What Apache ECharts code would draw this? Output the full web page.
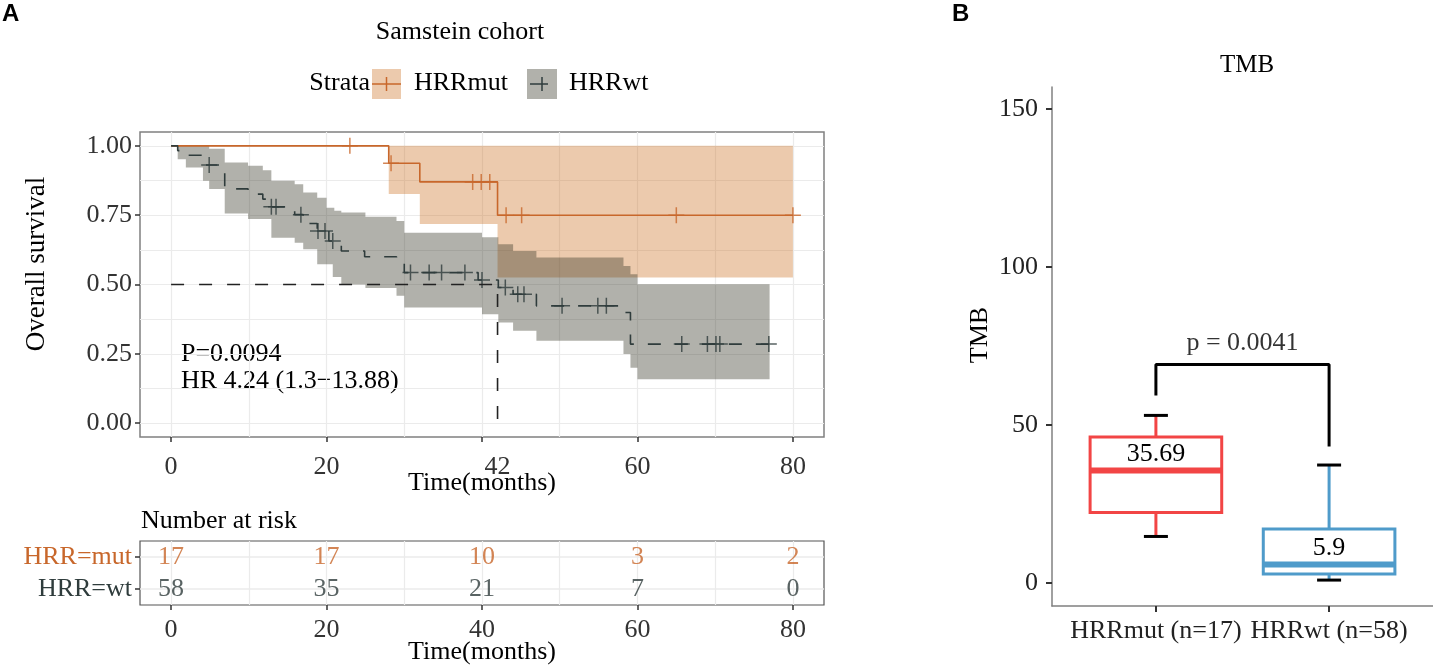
<!DOCTYPE html>
<html>
<head>
<meta charset="utf-8">
<script src="https://cdn.jsdelivr.net/npm/echarts@6/dist/echarts.min.js"></script>
<style>
html, body { margin: 0; padding: 0; background: #fff; }
#main { width: 1433px; height: 666px; }
</style>
</head>
<body>
<div id="main"></div>
<script>
// ---- KM curve: HRRmut ----
var mutTimes = [0, 28, 32, 42, 80];
var mutSurv = [1, 0.9375, 0.87, 0.75, 0.75];
var mutCensorTimes = [23, 28.3, 38.8, 39.9, 41, 43.1, 45.1, 65, 80];
var mutCensorSurv = [1, 0.9375, 0.87, 0.87, 0.87, 0.75, 0.75, 0.75, 0.75];
var mutBandTimes = [28, 32, 42, 80];
var mutBandLower = [0.826, 0.718, 0.525, 0.525];
var mutBandUpper = [1, 1, 1, 1];

// ---- KM curve: HRRwt ----
var wtTimes = [0, 0.85, 1.9, 4.1, 6.9, 9.9, 11.8, 12.9, 15.9, 17, 18.8, 20.3, 21.9, 24.9, 29, 30, 39.5, 42.1, 44, 47, 58.2, 59.1, 77];
var wtSurv = [1, 0.983, 0.966, 0.931, 0.845, 0.826, 0.808, 0.78, 0.752, 0.72, 0.693, 0.657, 0.621, 0.6, 0.579, 0.543, 0.516, 0.489, 0.465, 0.423, 0.399, 0.285, 0.285];
var wtCensorTimes = [4.9, 12.9, 13.5, 16.7, 18.9, 19.8, 20.8, 30.8, 33.2, 34.8, 37.8, 40, 43, 44.6, 45.4, 50.3, 54.9, 56, 65.7, 69, 70.1, 70.6, 76.9];
var wtCensorSurv = [0.931, 0.78, 0.78, 0.752, 0.693, 0.693, 0.657, 0.543, 0.543, 0.543, 0.543, 0.516, 0.489, 0.465, 0.465, 0.423, 0.423, 0.423, 0.285, 0.285, 0.285, 0.285, 0.285];
var wtBandTimes = [0, 0.85, 1.9, 4.1, 4.9, 6.9, 9.9, 11.8, 12.9, 15.9, 17, 18.8, 20, 20.8, 21, 21.9, 25, 29, 30, 40, 42.1, 44, 47, 58.2, 59.1, 60, 77];
var wtBandLower = [1, 0.952, 0.922, 0.874, 0.844, 0.756, 0.736, 0.736, 0.669, 0.651, 0.627, 0.573, 0.573, 0.527, 0.527, 0.5, 0.487, 0.459, 0.417, 0.393, 0.363, 0.333, 0.297, 0.249, 0.2, 0.158, 0.158];
var wtBandUpper = [1, 1, 1, 1, 0.99, 0.94, 0.928, 0.912, 0.874, 0.862, 0.832, 0.813, 0.777, 0.777, 0.766, 0.76, 0.744, 0.729, 0.687, 0.67, 0.645, 0.621, 0.597, 0.567, 0.537, 0.501, 0.501];

var medianTime = 42;
var medianSurv = 0.5;

// ---- number at risk ----
var riskTimes = [0, 20, 40, 60, 80];
var riskMut = [17, 17, 10, 3, 2];
var riskWt = [58, 35, 21, 7, 0];
var riskRows = ['HRR=wt', 'HRR=mut'];

// ---- TMB boxplot ----
var boxCategories = ['HRRmut (n=17)', 'HRRwt (n=58)'];
// [low whisker, Q1, median, Q3, high whisker]
var boxMut = [14.8, 22.4, 35.69, 46.3, 53.1];
var boxWt = [1.0, 2.9, 5.9, 17.2, 37.4];
var bracketY = [59.4, 69.2, 43.3];
var pText = 'p = 0.0041';

var SERIF = "'Liberation Serif', 'Times New Roman', serif";
var mutColor = '#C8672B';
var wtColor = '#2F3C3C';
var mutFill = 'rgba(205,115,40,0.38)';
var wtFill = 'rgba(50,50,35,0.38)';
var boxColors = ['#F24545', '#4F9BCA'];
var plusPath = 'path://M0,5L10,5M5,0L5,10';

function zip(a, b) {
    return a.map(function (v, i) { return [v, b[i]]; });
}

// one polygon for a step-shaped confidence band
function bandSeries(times, lower, upper, fill) {
    return {
        type: 'custom',
        xAxisIndex: 0, yAxisIndex: 0,
        silent: true,
        data: times.map(function (t, i) { return [t, lower[i], upper[i]]; }),
        encode: { x: 0, y: [1, 2] },
        renderItem: function (params, api) {
            if (params.dataIndex !== 0) return null;
            var pts = [], i, t0, t1;
            for (i = 0; i < times.length; i++) {
                t0 = times[i];
                t1 = i < times.length - 1 ? times[i + 1] : times[i];
                pts.push(api.coord([t0, upper[i]]), api.coord([t1, upper[i]]));
            }
            for (i = times.length - 1; i >= 0; i--) {
                t0 = times[i];
                t1 = i < times.length - 1 ? times[i + 1] : times[i];
                pts.push(api.coord([t1, lower[i]]), api.coord([t0, lower[i]]));
            }
            return { type: 'polygon', shape: { points: pts }, style: { fill: fill } };
        }
    };
}

var chart = echarts.init(document.getElementById('main'));

var noLine = { show: false, onZero: false };
var tickStyle = { color: '#333', width: 1.5 };

var option = {
    animation: false,
    backgroundColor: '#fff',
    textStyle: { fontFamily: SERIF },
    title: [
        { text: 'Samstein cohort', left: 455, top: 14, textAlign: 'center',
          textStyle: { fontFamily: SERIF, fontSize: 26, fontWeight: 'normal', color: '#000' } },
        { text: 'TMB', left: 1242, top: 48, textAlign: 'center',
          textStyle: { fontFamily: SERIF, fontSize: 25, fontWeight: 'normal', color: '#000' } },
        { text: 'Number at risk', left: 136, top: 503,
          textStyle: { fontFamily: SERIF, fontSize: 26, fontWeight: 'normal', color: '#000' } }
    ],
    grid: [
        { left: 140, top: 132, width: 684, height: 305, show: true, borderColor: '#808080', borderWidth: 1.5, backgroundColor: 'transparent' },
        { left: 140, top: 541, width: 684, height: 65, show: true, borderColor: '#555', borderWidth: 1.2, backgroundColor: 'transparent' },
        { left: 1052, top: 87, right: 0, bottom: 60 }
    ],
    xAxis: [
        { type: 'value', gridIndex: 0, min: -4, max: 84, position: 'bottom',
          axisLine: noLine,
          axisTick: { show: true, length: 5, lineStyle: tickStyle, customValues: [0, 20, 40, 60, 80] },
          axisLabel: { customValues: [0, 20, 42, 60, 80], fontFamily: SERIF, fontSize: 26, color: '#333', margin: 17 },
          splitLine: { show: false },
          name: 'Time(months)', nameLocation: 'middle', nameGap: 33, nameMoveOverlap: false,
          nameTextStyle: { fontFamily: SERIF, fontSize: 26, color: '#000' } },
        { type: 'value', gridIndex: 0, min: -4, max: 84, position: 'bottom',
          axisLine: noLine, axisLabel: { show: false },
          axisTick: { show: false, customValues: [0, 10, 20, 30, 40, 50, 60, 70, 80] },
          splitLine: { show: true, lineStyle: { color: '#EBEBEB', width: 1.2 } } },
        { type: 'value', gridIndex: 1, min: -4, max: 84, position: 'bottom',
          axisLine: noLine,
          axisTick: { show: true, length: 5, lineStyle: tickStyle, customValues: riskTimes },
          axisLabel: { customValues: riskTimes, fontFamily: SERIF, fontSize: 26, color: '#333', margin: 12 },
          splitLine: { show: false },
          name: 'Time(months)', nameLocation: 'middle', nameGap: 34, nameMoveOverlap: false,
          nameTextStyle: { fontFamily: SERIF, fontSize: 26, color: '#000' } },
        { type: 'value', gridIndex: 1, min: -4, max: 84, position: 'bottom',
          axisLine: noLine, axisLabel: { show: false },
          axisTick: { show: false, customValues: [0, 10, 20, 30, 40, 50, 60, 70, 80] },
          splitLine: { show: true, lineStyle: { color: '#EBEBEB', width: 1.2 } } },
        { type: 'value', gridIndex: 2, min: 0.4, max: 2.6, position: 'bottom',
          axisLine: { show: true, onZero: false, lineStyle: { color: '#808080', width: 1.5 } },
          axisTick: { show: true, length: 6, lineStyle: { color: '#333', width: 2 }, customValues: [1, 2] },
          axisLabel: { customValues: [1, 2], fontFamily: SERIF, fontSize: 26, color: '#222', margin: 12,
                       formatter: function (v) { return boxCategories[Math.round(v) - 1]; } },
          splitLine: { show: false } }
    ],
    yAxis: [
        { type: 'value', gridIndex: 0, min: -0.05, max: 1.05, position: 'left',
          axisLine: noLine,
          axisTick: { show: true, length: 5, lineStyle: tickStyle, customValues: [0, 0.25, 0.5, 0.75, 1] },
          axisLabel: { customValues: [0, 0.25, 0.5, 0.75, 1], fontFamily: SERIF, fontSize: 26, color: '#333', margin: 8,
                       formatter: function (v) { return v.toFixed(2); } },
          splitLine: { show: false } },
        { type: 'value', gridIndex: 0, min: -0.05, max: 1.05, position: 'left',
          axisLine: noLine, axisLabel: { show: false },
          axisTick: { show: false, customValues: [0, 0.125, 0.25, 0.375, 0.5, 0.625, 0.75, 0.875, 1] },
          splitLine: { show: true, lineStyle: { color: '#EBEBEB', width: 1.2 } } },
        { type: 'value', gridIndex: 1, min: 0.5, max: 2.5, position: 'left',
          axisLine: noLine,
          axisTick: { show: true, length: 5, lineStyle: tickStyle, customValues: [1, 2] },
          axisLabel: { customValues: [1, 2], fontFamily: SERIF, fontSize: 26, margin: 8,
                       formatter: function (v) {
                           var n = riskRows[Math.round(v) - 1];
                           return v > 1.5 ? '{mut|' + n + '}' : '{wt|' + n + '}';
                       },
                       rich: { mut: { color: mutColor, fontFamily: SERIF, fontSize: 26 },
                               wt: { color: wtColor, fontFamily: SERIF, fontSize: 26 } } },
          splitLine: { show: true, lineStyle: { color: '#EBEBEB', width: 1.5 } } },
        { type: 'value', gridIndex: 2, min: -7.2, max: 157, position: 'left',
          axisLine: { show: true, onZero: false, lineStyle: { color: '#808080', width: 1.5 } },
          axisTick: { show: true, length: 6, lineStyle: { color: '#333', width: 2 }, customValues: [0, 50, 100, 150] },
          axisLabel: { customValues: [0, 50, 100, 150], fontFamily: SERIF, fontSize: 26, color: '#222', margin: 14 },
          splitLine: { show: false } }
    ],
    graphic: [
        { type: 'text', left: 2, top: 2, style: { text: 'A', font: 'bold 24px "Liberation Sans", Arial, sans-serif', fill: '#000' } },
        { type: 'text', left: 952, top: 2, style: { text: 'B', font: 'bold 24px "Liberation Sans", Arial, sans-serif', fill: '#000' } },
        // axis titles
        { type: 'text', x: 37, y: 264, rotation: Math.PI / 2,
          style: { text: 'Overall survival', font: '27px ' + SERIF, fill: '#000', align: 'center', verticalAlign: 'middle' } },
        { type: 'text', x: 980, y: 335, rotation: Math.PI / 2,
          style: { text: 'TMB', font: '26px ' + SERIF, fill: '#000', align: 'center', verticalAlign: 'middle' } },
        // legend
        { type: 'text', right: 1433 - 370, top: 70, style: { text: 'Strata', font: '26px ' + SERIF, fill: '#000' } },
        { type: 'rect', shape: { x: 372, y: 69, width: 29, height: 30 }, style: { fill: mutFill } },
        { type: 'line', shape: { x1: 372, y1: 84, x2: 401, y2: 84 }, style: { stroke: mutColor, lineWidth: 1.5 } },
        { type: 'line', shape: { x1: 386.5, y1: 77, x2: 386.5, y2: 91 }, style: { stroke: mutColor, lineWidth: 1.5 } },
        { type: 'text', left: 414, top: 70, style: { text: 'HRRmut', font: '26px ' + SERIF, fill: '#000' } },
        { type: 'rect', shape: { x: 527, y: 69, width: 30, height: 30 }, style: { fill: wtFill } },
        { type: 'line', shape: { x1: 530, y1: 84, x2: 548, y2: 84 }, style: { stroke: wtColor, lineWidth: 1.5 } },
        { type: 'line', shape: { x1: 542, y1: 77, x2: 542, y2: 91 }, style: { stroke: wtColor, lineWidth: 1.5 } },
        { type: 'text', left: 569, top: 70, style: { text: 'HRRwt', font: '26px ' + SERIF, fill: '#000' } },
        // test statistics
        { type: 'text', left: 181, top: 341, style: { text: 'P=0.0094', font: '26px ' + SERIF, fill: '#000' } },
        { type: 'text', left: 181, top: 368, style: { text: 'HR 4.24 (1.3\u221213.88)', font: '26px ' + SERIF, fill: '#000' } }
    ],
    series: [
        bandSeries(mutBandTimes, mutBandLower, mutBandUpper, mutFill),
        bandSeries(wtBandTimes, wtBandLower, wtBandUpper, wtFill),
        { type: 'line', xAxisIndex: 0, yAxisIndex: 0, data: zip(mutTimes, mutSurv), step: 'end',
          symbol: 'none', lineStyle: { color: mutColor, width: 1.6 }, silent: true },
        { type: 'line', xAxisIndex: 0, yAxisIndex: 0, data: zip(wtTimes, wtSurv), step: 'end',
          symbol: 'none', lineStyle: { color: wtColor, width: 1.6, type: [13, 14] }, silent: true },
        { type: 'line', xAxisIndex: 0, yAxisIndex: 0,
          data: [[0, medianSurv], [medianTime, medianSurv], [medianTime, 0]],
          symbol: 'none', lineStyle: { color: '#222', width: 1.6, type: [13, 15] }, silent: true },
        { type: 'scatter', xAxisIndex: 0, yAxisIndex: 0, data: zip(mutCensorTimes, mutCensorSurv),
          symbol: plusPath, symbolSize: 16,
          itemStyle: { color: 'transparent', borderColor: mutColor, borderWidth: 1.5 }, silent: true },
        { type: 'scatter', xAxisIndex: 0, yAxisIndex: 0, data: zip(wtCensorTimes, wtCensorSurv),
          symbol: plusPath, symbolSize: 16,
          itemStyle: { color: 'transparent', borderColor: wtColor, borderWidth: 1.5 }, silent: true },
        // number at risk table
        { type: 'scatter', xAxisIndex: 2, yAxisIndex: 2,
          data: riskTimes.map(function (t, i) { return [t, 2, riskMut[i]]; }),
          symbolSize: 1, itemStyle: { color: 'transparent' }, silent: true,
          label: { show: true, position: 'inside', formatter: function (p) { return p.value[2]; },
                   fontFamily: SERIF, fontSize: 26, color: mutColor } },
        { type: 'scatter', xAxisIndex: 2, yAxisIndex: 2,
          data: riskTimes.map(function (t, i) { return [t, 1, riskWt[i]]; }),
          symbolSize: 1, itemStyle: { color: 'transparent' }, silent: true,
          label: { show: true, position: 'inside', formatter: function (p) { return p.value[2]; },
                   fontFamily: SERIF, fontSize: 26, color: wtColor } },
        // TMB boxes
        { type: 'custom', xAxisIndex: 4, yAxisIndex: 3, silent: true,
          data: [[1].concat(boxMut), [2].concat(boxWt)],
          encode: { x: 0, y: [1, 2, 3, 4, 5] },
          renderItem: function (params, api) {
              var x = api.value(0);
              var lo = api.coord([x, api.value(1)]);
              var q1 = api.coord([x, api.value(2)]);
              var med = api.coord([x, api.value(3)]);
              var q3 = api.coord([x, api.value(4)]);
              var hi = api.coord([x, api.value(5)]);
              var half = api.size([0.76, 0])[0] / 2;
              var cx = lo[0];
              var c = boxColors[params.dataIndex];
              return { type: 'group', children: [
                  { type: 'line', shape: { x1: cx, y1: hi[1], x2: cx, y2: q3[1] }, style: { stroke: c, lineWidth: 3 } },
                  { type: 'line', shape: { x1: cx, y1: q1[1], x2: cx, y2: lo[1] }, style: { stroke: c, lineWidth: 3 } },
                  { type: 'line', shape: { x1: cx - 12, y1: hi[1], x2: cx + 12, y2: hi[1] }, style: { stroke: '#000', lineWidth: 3 } },
                  { type: 'line', shape: { x1: cx - 12, y1: lo[1], x2: cx + 12, y2: lo[1] }, style: { stroke: '#000', lineWidth: 3 } },
                  { type: 'rect', shape: { x: cx - half, y: q3[1], width: half * 2, height: q1[1] - q3[1] },
                    style: { fill: '#fff', stroke: c, lineWidth: 3 } },
                  { type: 'line', shape: { x1: cx - half, y1: med[1], x2: cx + half, y2: med[1] }, style: { stroke: c, lineWidth: 6 } },
                  { type: 'text', x: cx, y: med[1] - 3,
                    style: { text: String(api.value(3)), font: '26px ' + SERIF, fill: '#000', align: 'center', verticalAlign: 'bottom' } }
              ] };
          } },
        // significance bracket
        { type: 'line', xAxisIndex: 4, yAxisIndex: 3,
          data: [[1, bracketY[0]], [1, bracketY[1]], [2, bracketY[1]], [2, bracketY[2]]],
          symbol: 'none', lineStyle: { color: '#000', width: 3 }, silent: true },
        { type: 'scatter', xAxisIndex: 4, yAxisIndex: 3, data: [[1.5, bracketY[1]]],
          symbolSize: 1, itemStyle: { color: 'transparent' }, silent: true,
          label: { show: true, position: 'top', distance: 8, formatter: pText,
                   fontFamily: SERIF, fontSize: 26, color: '#000' } }
    ]
};

chart.setOption(option);
</script>
</body>
</html>
